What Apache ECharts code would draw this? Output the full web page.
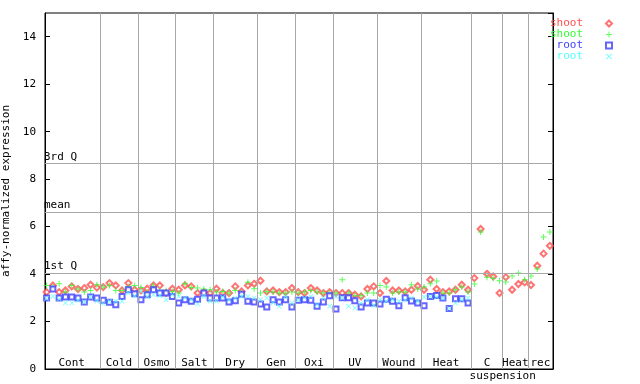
<!DOCTYPE html>
<html>
<head>
<meta charset="utf-8">
<script src="https://cdn.jsdelivr.net/npm/echarts@6/dist/echarts.min.js"></script>
<style>html,body{margin:0;padding:0;background:#fff}#c{width:640px;height:384px}</style>
</head>
<body>
<div id="c"></div>
<script>
const groups = ['Cont','Cold','Osmo','Salt','Dry','Gen','Oxi','UV','Wound','Heat','C','Heat','rec'];
const groupCounts = [9,6,6,6,7,6,6,7,7,8,5,4,4];
const subLabel = 'suspension';
const yTicks = [0,2,4,6,8,10,12,14];
const refLines = [{name:'3rd Q', value:8.66},{name:'mean', value:6.61},{name:'1st Q', value:4.05}];

const shoot1 = [3.24,3.52,3.24,3.31,3.48,3.37,3.41,3.55,3.43,
 3.45,3.62,3.52,3.31,3.62,3.34,
 3.31,3.38,3.52,3.52,3.20,3.38,
 3.34,3.52,3.48,3.20,3.24,3.20,
 3.38,3.20,3.20,3.48,3.27,3.52,3.59,
 3.72,3.27,3.31,3.24,3.24,3.41,
 3.24,3.20,3.41,3.31,3.20,3.24,
 3.20,3.20,3.20,3.13,3.06,3.37,3.48,
 3.20,3.71,3.31,3.31,3.27,3.34,3.50,
 3.34,3.76,3.37,3.24,3.27,3.34,3.55,3.34,
 3.83,5.90,4.01,3.90,3.20,
 3.87,3.34,3.58,3.65,
 3.54,4.35,4.86,5.19];
const shoot2 = [3.52,3.45,3.59,3.24,3.52,3.37,3.24,3.31,3.55,
 3.45,3.52,3.31,3.31,3.48,3.52,
 3.43,3.24,3.50,3.31,3.31,3.27,
 3.20,3.59,3.43,3.41,3.37,3.34,
 3.24,3.27,3.20,3.31,3.20,3.66,3.38,
 3.20,3.27,3.24,3.20,3.20,3.24,
 3.20,3.24,3.31,3.24,3.20,3.20,
 3.20,3.76,3.20,3.09,3.09,3.20,3.20,
 3.52,3.45,3.20,3.24,3.24,3.55,3.37,
 3.45,3.59,3.71,3.20,3.20,3.34,3.45,3.24,
 3.58,5.77,3.87,3.82,3.72,
 3.67,3.92,4.05,3.76,
 3.92,4.21,5.56,5.77];
const root1 = [2.99,3.37,2.99,3.03,3.03,2.99,2.82,3.03,2.99,
 2.90,2.81,2.71,3.06,3.34,3.17,
 2.92,3.13,3.34,3.20,3.20,3.06,
 2.78,2.92,2.85,2.94,3.20,2.99,
 2.99,2.99,2.82,2.88,3.15,2.85,2.82,
 2.74,2.61,2.92,2.82,2.92,2.61,
 2.90,2.92,2.90,2.64,2.82,3.09,
 2.53,3.00,3.00,2.88,2.61,2.78,2.78,
 2.74,2.94,2.85,2.67,3.00,2.87,2.78,
 2.67,3.06,3.10,2.99,2.55,2.96,2.96,2.78,
 null,null,null,null,null,null,null,null,null,null,null,null,null];
const root2 = [2.97,3.06,2.95,2.78,2.78,2.90,2.82,3.03,2.85,
 2.76,2.85,2.85,2.85,3.20,3.09,
 3.27,3.06,3.13,3.09,2.92,3.13,
 3.06,2.99,2.92,2.74,3.06,2.85,
 2.85,3.03,2.90,2.99,3.06,3.06,2.99,
 2.92,2.99,2.78,2.64,3.06,2.78,
 2.92,2.99,3.06,2.71,2.99,2.64,
 3.06,3.00,2.64,2.57,2.78,2.92,2.69,
 2.92,2.87,2.92,2.85,2.92,2.99,2.85,
 3.03,3.06,3.03,2.99,2.55,2.78,2.92,2.99,
 null,null,null,null,null,null,null,null,null,null,null,null,null];

const X_MIN = 0.25;
const bounds = []; const centers = [];
let acc = 0;
groupCounts.forEach((c,i)=>{ centers.push(acc + c/2); acc += c; if (i < groupCounts.length-1) bounds.push(acc); });
const totalN = acc;
const subPos = 73;

const toPts = arr => arr.map((v,i)=> v==null ? null : [i+0.5, v]);
const FONT = 'DejaVu Sans Mono';
const cRed='#ff5050', cGreen='#33ff33', cBlue='#4040ff', cCyan='#55ffff';
const plusPath = 'path://M2.5,0h1v6h-1z M0,2.5h6v1h-6z';
const xPath = 'path://M0,0.7L0.7,0L6,5.3L5.3,6Z M5.3,0L6,0.7L0.7,6L0,5.3Z';
const legendText = {s1:'shoot', s2:'shoot', r1:' root', r2:' root'};

const chart = echarts.init(document.getElementById('c'), null, {renderer:'canvas'});
chart.setOption({
  animation:false,
  backgroundColor:'#fff',
  textStyle:{fontFamily:FONT},
  grid:{left:45, right:87, top:13, bottom:15, show:true, borderColor:'#000', borderWidth:1,
        containLabel:false, outerBoundsMode:'none'},
  legend:{
    orient:'vertical', right:27, top:18, align:'right', itemGap:0, itemWidth:6, itemHeight:6,
    formatter: n => legendText[n], padding:0,
    textStyle:{fontFamily:FONT, fontSize:11, lineHeight:11, padding:[0,18,0,0]},
    data:[
      {name:'s1', textStyle:{color:cRed}},
      {name:'s2', textStyle:{color:cGreen}, itemStyle:{color:cGreen}},
      {name:'r1', textStyle:{color:cBlue}},
      {name:'r2', textStyle:{color:cCyan}, itemStyle:{color:cCyan}}
    ]
  },
  xAxis:{
    type:'value', min:X_MIN, max:totalN, interval:0.25,
    axisLine:{show:true, lineStyle:{color:'#000'}}, axisTick:{show:false}, splitLine:{show:false},
    axisLabel:{
      margin:-12, color:'#000', fontFamily:FONT, fontSize:11, lineHeight:13, verticalAlign:'top',
      showMinLabel:true, showMaxLabel:true,
      formatter: v => {
        for (let i=0;i<centers.length;i++) if (Math.abs(centers[i]-v)<1e-6) return groups[i];
        if (Math.abs(v-subPos)<1e-6) return '\n'+subLabel;
        return '';
      }
    }
  },
  yAxis:[{
    type:'value', min:0, max:15, interval:2,
    name:'affy-normalized expression', nameLocation:'middle', nameGap:27, nameRotate:90,
    nameTextStyle:{fontFamily:FONT, fontSize:11, color:'#000'},
    axisLine:{show:true, lineStyle:{color:'#000'}},
    axisTick:{show:true, inside:true, length:5, lineStyle:{color:'#000'}},
    axisLabel:{color:'#000', fontFamily:FONT, fontSize:11, margin:9, showMaxLabel:false,
      formatter: v => yTicks.indexOf(v) >= 0 ? String(v) : ''},
    splitLine:{show:false}
  },{
    type:'value', min:0, max:15, interval:2, position:'right',
    axisLine:{show:true, lineStyle:{color:'#000'}},
    axisTick:{show:true, inside:true, length:5, lineStyle:{color:'#000'}},
    axisLabel:{show:false}, splitLine:{show:false}
  }],
  series:[
    {
      name:'ref', type:'scatter', data:[], silent:true,
      markLine:{
        silent:true, symbol:'none', animation:false,
        lineStyle:{color:'#a8a8a8', type:'solid', width:1},
        label:{show:false},
        data: bounds.map(b=>({xAxis:b}))
      }
    },
    {
      name:'ref2', type:'scatter', data:[], silent:true,
      markLine:{
        silent:true, symbol:'none', animation:false,
        lineStyle:{color:'#a8a8a8', type:'solid', width:1},
        label:{show:true, position:'insideStartTop', distance:[-1,1], color:'#000', fontFamily:FONT, fontSize:11,
          formatter: p => p.name},
        data: refLines.map(r=>({name:r.name, yAxis:r.value}))
      }
    },
    {name:'s1', type:'scatter', data:toPts(shoot1), symbol:'emptyDiamond', symbolSize:6,
     itemStyle:{color:cRed, borderColor:cRed, borderWidth:1}},
    {name:'s2', type:'scatter', data:toPts(shoot2), symbol:plusPath, symbolSize:6,
     itemStyle:{color:cGreen}},
    {name:'r1', type:'scatter', data:toPts(root1), symbol:'emptyRect', symbolSize:5,
     itemStyle:{color:cBlue, borderColor:cBlue, borderWidth:1}},
    {name:'r2', type:'scatter', data:toPts(root2), symbol:xPath, symbolSize:5,
     itemStyle:{color:cCyan}}
  ]
});
</script>
</body>
</html>
